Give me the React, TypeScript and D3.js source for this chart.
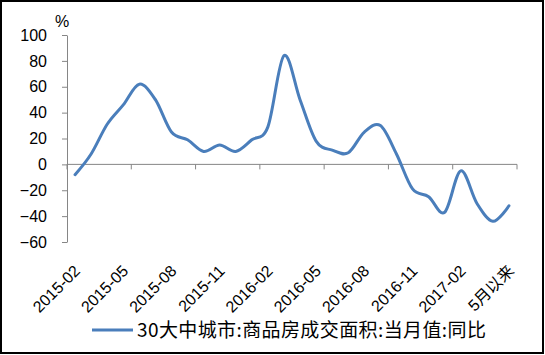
import React, { useEffect, useRef } from "react";
import * as d3 from "d3";

// monthly categories, 2015-02 .. 2017-05 (last one shown as "5月以来")
const months = [
  "2015-02", "2015-03", "2015-04", "2015-05", "2015-06", "2015-07", "2015-08",
  "2015-09", "2015-10", "2015-11", "2015-12", "2016-01", "2016-02", "2016-03",
  "2016-04", "2016-05", "2016-06", "2016-07", "2016-08", "2016-09", "2016-10",
  "2016-11", "2016-12", "2017-01", "2017-02", "2017-03", "2017-04", "5月以来",
];
const yoy = [
  -8, 8, 31, 46, 62, 50, 25, 19, 10, 15, 10, 19, 29, 84,
  50, 18, 11, 9, 25, 30, 8, -19, -25, -37, -5, -30, -44, -32,
];
const yTicks = [-60, -40, -20, 0, 20, 40, 60, 80, 100];
const seriesName = "30大中城市:商品房成交面积:当月值:同比";

const App: React.FC = () => {
  const svgRef = useRef<SVGSVGElement | null>(null);

  useEffect(() => {
    d3.select(svgRef.current).selectAll("*").remove();

    const w = 545;
    const h = 355;
    const plot = { left: 67, right: 517, top: 35, bottom: 242 };
    const axisColor = "#868686";
    const lineColor = "#4a7ebb";
    const font = "'Liberation Sans', Arial, 'Noto Sans CJK SC', sans-serif";

    const svg = d3
      .select(svgRef.current)
      .attr("width", w)
      .attr("height", h)
      .style("background-color", "#ffffff");

    svg.append("rect")
      .attr("x", 1)
      .attr("y", 1)
      .attr("width", w - 3)
      .attr("height", h - 3)
      .attr("fill", "#fff")
      .attr("stroke", "#000")
      .attr("stroke-width", 2);

    const x = d3.scaleBand<string>()
      .domain(months)
      .range([plot.left, plot.right])
      .padding(0);

    const y = d3.scaleLinear()
      .domain([-60, 100])
      .range([plot.bottom, plot.top]);

    // Y axis
    const yAxis = svg.append("g")
      .attr("transform", `translate(${plot.left}, 0)`)
      .call(d3.axisLeft(y).tickValues(yTicks).tickSize(5).tickSizeOuter(0).tickPadding(15));
    yAxis.select(".domain").attr("stroke", axisColor);
    yAxis.selectAll(".tick line").attr("stroke", axisColor);
    yAxis.selectAll("text")
      .style("font-family", font)
      .style("font-size", "16px")
      .attr("fill", "#000");

    svg.append("text")
      .attr("x", 55)
      .attr("y", 27)
      .style("font-family", font)
      .style("font-size", "16px")
      .text("%");

    // X axis at zero
    const y0 = y(0);
    svg.append("line")
      .attr("x1", plot.left)
      .attr("x2", plot.right)
      .attr("y1", y0)
      .attr("y2", y0)
      .attr("stroke", axisColor);

    const bw = x.bandwidth();
    const tickIdx = d3.range(0, months.length + 1, 4);
    svg.selectAll(".xtick")
      .data(tickIdx)
      .enter()
      .append("line")
      .attr("x1", d => plot.left + d * bw)
      .attr("x2", d => plot.left + d * bw)
      .attr("y1", y0)
      .attr("y2", y0 + 5)
      .attr("stroke", axisColor);

    // rotated labels every 3rd month
    const labelMonths = months.filter((_, i) => i % 3 === 0);
    svg.selectAll(".xlabel")
      .data(labelMonths)
      .enter()
      .append("text")
      .attr("transform", d => `translate(${x(d)! + bw / 2 + 6}, 272) rotate(-45)`)
      .attr("text-anchor", "end")
      .style("font-family", font)
      .style("font-size", "16px")
      .text(d => d);

    // series
    const line = d3.line<number>()
      .x((_, i) => x(months[i])! + bw / 2)
      .y(d => y(d))
      .curve(d3.curveCardinal.tension(0));

    svg.append("path")
      .datum(yoy)
      .attr("fill", "none")
      .attr("stroke", lineColor)
      .attr("stroke-width", 3)
      .attr("stroke-linejoin", "round")
      .attr("stroke-linecap", "round")
      .attr("d", line);

    // legend
    const legend = svg.append("g").attr("transform", "translate(92, 330)");
    legend.append("line")
      .attr("x1", 0)
      .attr("x2", 41)
      .attr("stroke", lineColor)
      .attr("stroke-width", 3);
    legend.append("text")
      .attr("x", 45)
      .attr("y", 7)
      .style("font-family", "'Noto Sans CJK SC', sans-serif")
      .style("font-size", "19px")
      .style("letter-spacing", "0.4px")
      .text(seriesName);
  }, []);

  return (
    <div style={{ position: "absolute", left: 0, top: 0 }}>
      <svg ref={svgRef}></svg>
    </div>
  );
};

export default App;
